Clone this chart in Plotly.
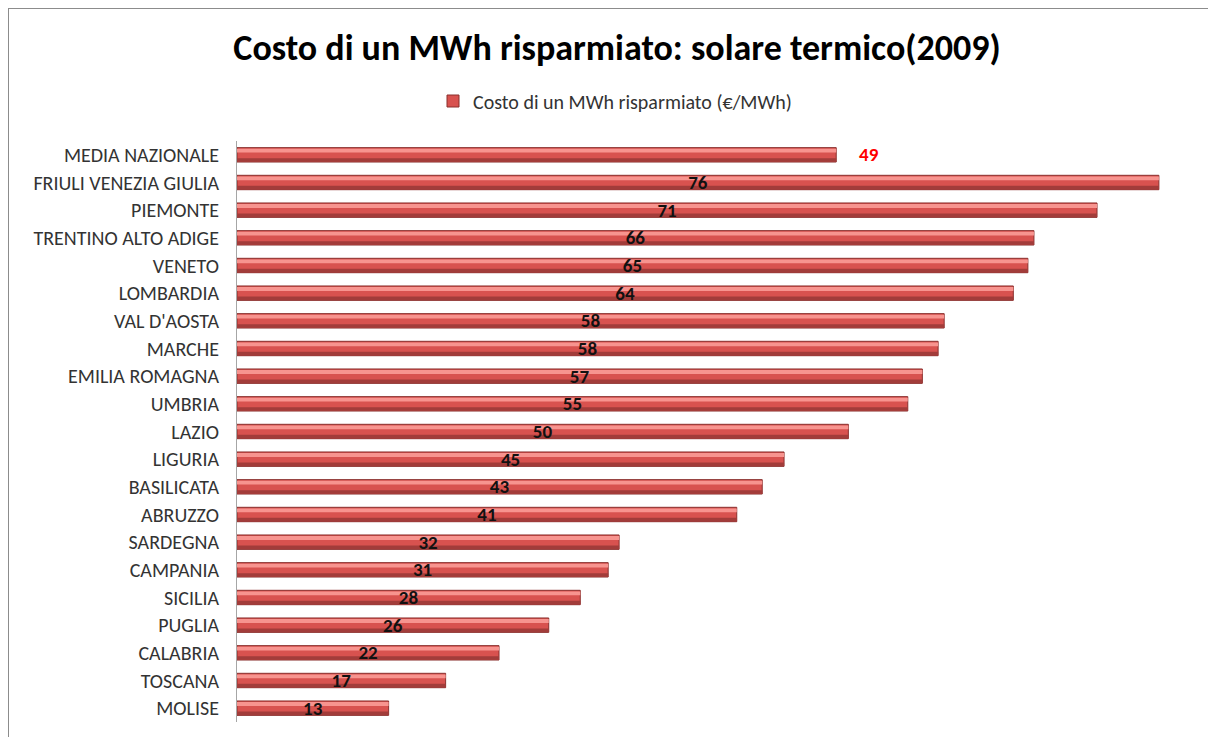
import plotly.graph_objects as go

regions = ["MEDIA NAZIONALE", "FRIULI VENEZIA GIULIA", "PIEMONTE", "TRENTINO ALTO ADIGE",
           "VENETO", "LOMBARDIA", "VAL D'AOSTA", "MARCHE", "EMILIA ROMAGNA", "UMBRIA",
           "LAZIO", "LIGURIA", "BASILICATA", "ABRUZZO", "SARDEGNA", "CAMPANIA", "SICILIA",
           "PUGLIA", "CALABRIA", "TOSCANA", "MOLISE"]
values = [49.4, 76.0, 70.9, 65.7, 65.2, 64.0, 58.3, 57.8, 56.5, 55.3, 50.4, 45.1, 43.3,
          41.2, 31.5, 30.6, 28.3, 25.7, 21.6, 17.2, 12.5]
labels = ["49", "76", "71", "66", "65", "64", "58", "58", "57", "55", "50", "45", "43",
          "41", "32", "31", "28", "26", "22", "17", "13"]
series_name = "Costo di un MWh risparmiato (€/MWh)"

FONT = "Carlito, Liberation Sans, Arial, sans-serif"

# page body has an 8px margin: layout coordinates = page coordinates - 8
W, H = 1208, 729
PL, PR, PT, PB = 229, 1172, 133, 714  # plot area in layout px
SCALE = 12.13  # px per unit

fig = go.Figure()
# main bar body
fig.add_trace(go.Bar(
    y=regions, x=values, orientation="h", name=series_name,
    width=0.52,
    marker=dict(color="#d8524f", line=dict(color="#8a2f2d", width=1)),
    hoverinfo="x+y",
))
# glossy highlight
fig.add_trace(go.Bar(
    y=regions, x=values, orientation="h", showlegend=False,
    width=0.14, offset=-0.22,
    marker=dict(color="#f7948f", line=dict(width=0)),
    hoverinfo="skip",
))
# darker lower shade
fig.add_trace(go.Bar(
    y=regions, x=values, orientation="h", showlegend=False,
    width=0.13, offset=0.12,
    marker=dict(color="#a23c3a", line=dict(width=0)),
    hoverinfo="skip",
))
# transparent bar carrying the value labels (all but the national average)
fig.add_trace(go.Bar(
    y=regions, x=values, orientation="h", showlegend=False,
    width=0.52,
    marker=dict(color="rgba(0,0,0,0)", line=dict(width=0)),
    text=[""] + labels[1:], textposition="inside", insidetextanchor="middle",
    constraintext="none", textangle=0,
    textfont=dict(family=FONT, size=19, color="#111111", weight="bold"),
    hoverinfo="skip",
))

# national average label (red, to the right of its bar)
fig.add_annotation(x=values[0], y=regions[0], text="<b>" + labels[0] + "</b>",
                   showarrow=False, xanchor="left", xshift=21, yshift=0,
                   font=dict(family=FONT, size=19, color="#ff0000"))

pw, ph = PR - PL, PB - PT
# outer chart border
fig.add_shape(type="rect", xref="paper", yref="paper",
              x0=(0 - PL) / pw, x1=(W + 20 - PL) / pw,
              y0=(PB - (H + 20)) / ph, y1=(PB - 0) / ph,
              line=dict(color="#8c8c8c", width=2), fillcolor="rgba(0,0,0,0)", layer="below")

fig.update_layout(
    width=W, height=H,
    paper_bgcolor="white", plot_bgcolor="white",
    margin=dict(l=PL, r=W - PR, t=PT, b=H - PB),
    barmode="overlay",
    title=dict(text="<b>Costo di un MWh risparmiato: solare termico(2009)</b>",
               x=609 / W, xref="container", xanchor="center",
               y=1 - 39 / H, yref="container", yanchor="middle",
               font=dict(family=FONT, size=36, color="#000000")),
    legend=dict(orientation="h", x=(607 - PL) / pw, xanchor="center",
                y=(PB - 93) / ph, yanchor="middle",
                font=dict(family=FONT, size=20, color="#333333"),
                itemwidth=30, bgcolor="rgba(0,0,0,0)"),
    xaxis=dict(range=[0, pw / SCALE], showgrid=False, zeroline=False,
               showticklabels=False, showline=False, fixedrange=True),
    yaxis=dict(range=[len(regions) - 0.5, -0.5], showline=True, linecolor="#a6a6a6",
               linewidth=1, ticks="", ticklabelstandoff=13, showgrid=False,
               tickfont=dict(family=FONT, size=20, color="#333333")),
    font=dict(family=FONT),
)

fig.write_html("out.html")
